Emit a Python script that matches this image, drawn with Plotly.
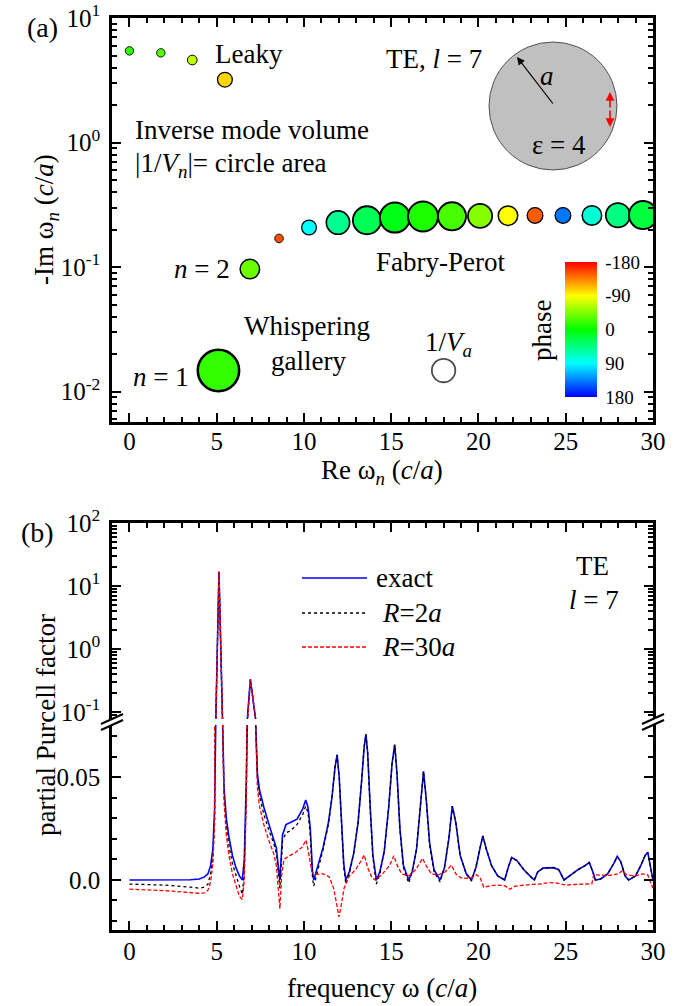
import plotly.graph_objects as go

# ---------------------------------------------------------------- page geometry
W, H = 689, 1006
ML, MR, MT, MB = 112, 36, 18, 76
PW = W - ML - MR
PH = H - MT - MB
FONT = "Liberation Serif"


def px(x):
    return (x - ML) / PW


def py(y):
    return (H - MB - y) / PH


# ---------------------------------------------------------------- panel (a) data
# complex eigenfrequencies omega_n (units c/a), inverse mode volume |1/V_n| (arb.)
# and phase of 1/V_n in degrees
leaky_re = [0.0, 1.8, 3.6, 5.47]
leaky_im = [5.45, 5.25, 4.6, 3.2]
leaky_invV = [0.71, 0.71, 0.94, 2.19]
leaky_phase = [-15, -30, -68, -105]

wg_re = [5.1, 6.9]
wg_im = [0.0148, 0.0965]
wg_invV = [17.1, 3.8]
wg_phase = [-18, -38]

fp_re = [8.57, 10.29, 11.95, 13.61, 15.21, 16.82, 18.48, 20.09, 21.69,
         23.24, 24.84, 26.50, 27.99, 29.43]
fp_im = [0.170, 0.208, 0.228, 0.238, 0.250, 0.255, 0.256, 0.258, 0.259,
         0.260, 0.260, 0.260, 0.261, 0.262]
fp_invV = [0.74, 2.19, 5.43, 7.9, 9.0, 9.0, 7.9, 5.86, 3.8, 2.46, 2.46,
           3.8, 5.86, 7.9]
fp_phase = [-152, 90, 51, 30, 8, -10, -25, -46, -90, -148, 138, 75, 45, 22]

# reference circle for the mode volume of the cylinder itself
ref_re = [18.0]
ref_im = [0.0148]
ref_invV = [5.5]

# ---------------------------------------------------------------- panel (b) data
exact_w = [0.0, 2.0, 3.5, 4.0, 4.3, 4.5, 4.65, 4.78, 4.88, 4.95, 5.13, 5.33,
           5.42, 5.55, 5.7, 5.9, 6.1, 6.3, 6.47, 6.58, 6.7, 6.8, 6.93, 7.22,
           7.33, 7.45, 7.7, 8.0, 8.26, 8.42, 8.54, 8.62, 8.77, 8.97, 9.22,
           9.6, 9.93, 10.1, 10.23, 10.36, 10.49, 10.56, 10.8, 11.1, 11.4,
           11.6, 11.78, 11.9, 12.02, 12.15, 12.28, 12.4, 12.6, 12.85, 13.1,
           13.3, 13.45, 13.55, 13.65, 13.8, 13.95, 14.15, 14.35, 14.6, 14.85,
           15.05, 15.2, 15.33, 15.5, 15.7, 16.0, 16.2, 16.45, 16.65, 16.85,
           17.0, 17.2, 17.45, 17.8, 18.05, 18.3, 18.5, 18.7, 18.95, 19.3,
           19.6, 19.85, 20.1, 20.25, 20.45, 20.75, 21.1, 21.5, 21.7, 21.9,
           22.2, 22.6, 23.0, 23.2, 23.4, 23.7, 24.3, 24.6, 24.9, 25.2, 25.7,
           26.1, 26.35, 26.55, 26.7, 27.0, 27.4, 27.75, 27.95, 28.15, 28.4,
           28.6, 29.0, 29.3, 29.55, 29.7, 29.85, 30.0]
exact_F = [0.0, 0.0, 0.0001, 0.0005, 0.0015, 0.003, 0.007, 0.015, 0.035, 0.08,
           17.0, 0.08, 0.045, 0.03, 0.021, 0.012, 0.006, 0.002, 0.0, 0.01,
           0.05, 0.1, 0.33, 0.08, 0.052, 0.044, 0.0355, 0.027, 0.0205, 0.0155,
           0.0055, 0.0, 0.022, 0.027, 0.028, 0.0297, 0.0347, 0.039, 0.0355,
           0.0255, 0.004, 0.0, 0.007, 0.016, 0.028, 0.04, 0.055, 0.061, 0.05,
           0.028, 0.008, 0.0, 0.004, 0.013, 0.028, 0.048, 0.065, 0.071, 0.062,
           0.035, 0.012, 0.0, 0.004, 0.014, 0.035, 0.057, 0.066, 0.052, 0.025,
           0.007, 0.0, 0.004, 0.015, 0.034, 0.053, 0.04, 0.018, 0.005, 0.0,
           0.006, 0.02, 0.036, 0.028, 0.012, 0.003, 0.0, 0.006, 0.016, 0.0215,
           0.015, 0.007, 0.002, 0.0, 0.006, 0.011, 0.0095, 0.005, 0.0015, 0.0,
           0.004, 0.0058, 0.006, 0.005, 0.0, 0.002, 0.005, 0.007, 0.0085,
           0.004, 0.0, 0.0005, 0.003, 0.008, 0.0115, 0.009, 0.002, 0.0, 0.002,
           0.007, 0.012, 0.0135, 0.006, 0.0]

r2_w = exact_w
r2_F = [-0.002, -0.0025, -0.0035, -0.004, -0.0035, -0.002, 0.003, 0.011,
        0.03, 0.08, 17.0, 0.08, 0.042, 0.026, 0.017, 0.008, 0.002, -0.003,
        -0.007, 0.004, 0.045, 0.1, 0.33, 0.08, 0.05, 0.041, 0.032, 0.024,
        0.018, 0.013, 0.003, -0.004, 0.019, 0.023, 0.024, 0.027, 0.032, 0.036,
        0.033, 0.022, 0.001, -0.003, 0.005, 0.015, 0.027, 0.04, 0.055, 0.061,
        0.05, 0.027, 0.006, -0.002, 0.003, 0.013, 0.028, 0.048, 0.065, 0.071,
        0.062, 0.034, 0.011, -0.002, 0.003, 0.014, 0.035, 0.057, 0.066, 0.052,
        0.024, 0.006, -0.0015, 0.004, 0.015, 0.034, 0.053, 0.04, 0.017, 0.004,
        -0.001, 0.006, 0.02, 0.036, 0.028, 0.012, 0.003, -0.0005, 0.006, 0.016,
        0.0215, 0.015, 0.007, 0.002, 0.0, 0.006, 0.011, 0.0095, 0.005, 0.0015,
        0.0, 0.004, 0.0058, 0.006, 0.005, 0.0, 0.002, 0.005, 0.007, 0.0085,
        0.004, 0.0, 0.0005, 0.003, 0.008, 0.0115, 0.009, 0.002, 0.0, 0.002,
        0.007, 0.012, 0.0135, 0.006, 0.0]

r30_w = [0.0, 1.0, 2.0, 3.0, 3.5, 4.0, 4.3, 4.5, 4.65, 4.78, 4.88, 4.95, 5.13,
         5.33, 5.42, 5.55, 5.7, 5.9, 6.1, 6.3, 6.47, 6.58, 6.7, 6.8, 6.93,
         7.22, 7.33, 7.45, 7.7, 8.0, 8.26, 8.42, 8.54, 8.62, 8.72, 8.85, 9.1,
         9.5, 9.9, 10.12, 10.25, 10.45, 10.7, 11.1, 11.45, 11.7, 11.9, 12.0,
         12.1, 12.3, 12.6, 12.95, 13.25, 13.45, 13.65, 13.9, 14.1, 14.5, 14.9,
         15.15, 15.35, 15.6, 16.0, 16.4, 16.8, 17.0, 17.3, 17.7, 18.1, 18.45,
         18.7, 19.0, 19.5, 19.9, 20.1, 20.3, 20.6, 21.0, 21.5, 21.8, 22.1,
         22.5, 23.0, 23.5, 24.0, 24.5, 25.0, 25.5, 26.0, 26.5, 26.6, 27.0,
         27.5, 28.0, 28.25, 28.5, 29.0, 29.4, 29.7, 29.85, 30.0]
r30_F = [-0.0045, -0.0048, -0.0052, -0.0058, -0.0062, -0.0065, -0.0063,
         -0.005, -0.001, 0.008, 0.028, 0.08, 17.0, 0.08, 0.038, 0.022, 0.012,
         0.003, -0.003, -0.008, -0.0095, 0.0, 0.04, 0.1, 0.33, 0.08, 0.045,
         0.036, 0.027, 0.019, 0.013, 0.007, -0.005, -0.014, 0.002, 0.01,
         0.0115, 0.0133, 0.016, 0.0195, 0.014, 0.004, 0.0028, 0.003, 0.0015,
         -0.004, -0.013, -0.018, -0.014, -0.004, 0.002, 0.005, 0.009, 0.0122,
         0.006, 0.001, 0.0, 0.003, 0.007, 0.0118, 0.007, 0.003, 0.002, 0.005,
         0.0105, 0.007, 0.003, 0.0025, 0.004, 0.0072, 0.003, 0.001, 0.0008,
         0.0025, 0.001, -0.0035, -0.003, -0.0025, -0.0028, -0.0045, -0.003,
         -0.0025, -0.0022, -0.002, -0.0013, -0.0015, -0.0025, -0.0022, -0.002,
         -0.0018, 0.0025, 0.0025, 0.0022, 0.003, 0.0045, 0.0025, 0.002, 0.003,
         0.0025, -0.001, -0.004]

# ---------------------------------------------------------------- styles
PHASE_SCALE = [
    [0.0, "rgb(0,0,255)"], [0.125, "rgb(0,128,255)"], [0.25, "rgb(0,255,255)"],
    [0.375, "rgb(0,255,128)"], [0.5, "rgb(0,255,0)"], [0.625, "rgb(128,255,0)"],
    [0.75, "rgb(255,255,0)"], [0.875, "rgb(255,128,0)"], [1.0, "rgb(255,0,0)"],
]
# bubble diameter in px = 10 * sqrt(|1/V|)  (plotly area mode halves the value)
SIZEREF = 0.02


def outline_width(inv_volume):
    diameter = 10 * inv_volume ** 0.5
    return 0.5 + 0.05 * diameter


fig = go.Figure()

modes_re = leaky_re + wg_re + fp_re
modes_im = leaky_im + wg_im + fp_im
modes_invV = leaky_invV + wg_invV + fp_invV
modes_phase = leaky_phase + wg_phase + fp_phase

fig.add_trace(go.Scatter(
    x=modes_re, y=modes_im, mode="markers", xaxis="x", yaxis="y",
    showlegend=False, hoverinfo="skip",
    marker=dict(
        size=modes_invV, sizemode="area", sizeref=SIZEREF,
        color=[-p for p in modes_phase], colorscale=PHASE_SCALE,
        cmin=-180, cmax=180, opacity=1,
        line=dict(color="black", width=[outline_width(v) for v in modes_invV]),
        colorbar=dict(
            x=px(565), xanchor="left", y=py(329.5), yanchor="middle",
            len=(397 - 262) / PH, lenmode="fraction",
            thickness=32, thicknessmode="pixels",
            outlinewidth=0, xpad=0, ypad=0,
            tickvals=[-180, -90, 0, 90, 180],
            ticktext=["180", "90", "0", "-90", "-180"],
            ticks="outside", ticklen=5, tickcolor="rgba(0,0,0,0)",
            tickfont=dict(family=FONT, size=19, color="black"),
        ),
    ),
))

fig.add_trace(go.Scatter(
    x=ref_re, y=ref_im, mode="markers", xaxis="x", yaxis="y",
    showlegend=False, hoverinfo="skip",
    marker=dict(size=ref_invV, sizemode="area", sizeref=SIZEREF,
                color="white", line=dict(color="black", width=1.8)),
))

series = [
    (exact_w, exact_F, dict(color="rgb(0,0,255)", width=1.6, dash="solid")),
    (r2_w, r2_F, dict(color="black", width=1.3, dash="dot")),
    (r30_w, r30_F, dict(color="rgb(255,0,0)", width=1.3, dash="4px,2px")),
]
for xs, ys, style in series:
    for xa, ya in (("x2", "y2"), ("x3", "y3")):
        fig.add_trace(go.Scatter(x=xs, y=ys, mode="lines", xaxis=xa, yaxis=ya,
                                 line=style, showlegend=False, hoverinfo="skip"))

# ---------------------------------------------------------------- axes
tickfont = dict(family=FONT, size=25, color="black")
common = dict(showgrid=False, zeroline=False, showline=True, linecolor="black",
              linewidth=2.5, ticks="inside", ticklen=9, tickwidth=1.8,
              tickcolor="black", tickfont=tickfont, automargin=False,
              ticklabeloverflow="allow")


def xcommon(**kw):
    d = dict(common)
    d.update(range=[-1, 30], tickmode="linear", tick0=0, dtick=5,
             minor=dict(tickmode="linear", tick0=0, dtick=1, ticks="inside",
                        ticklen=5, tickwidth=1.5, tickcolor="black"))
    d.update(kw)
    return d


def log_minor(lo, hi):
    vals = []
    for e in range(lo, hi):
        for k in range(2, 10):
            vals.append(k * 10.0 ** e)
    return dict(tickmode="array", tickvals=vals, ticks="inside", ticklen=5,
                tickwidth=1.5, tickcolor="black")


def pow_label(e):
    return "10<sup>%d</sup>" % e


ya = dict(common)
ya.update(type="log", range=[-2.243, 1.0001], domain=[py(422), 1],
          tickmode="array", tickvals=[0.01, 0.1, 1, 10],
          ticktext=[pow_label(e) for e in (-2, -1, 0, 1)],
          minor=log_minor(-3, 1), mirror="allticks", anchor="x",
          ticklabelstandoff=4)

yb_log = dict(common)
yb_log.update(type="log", range=[-1.111, 2], domain=[py(719), py(523)],
              tickmode="array", tickvals=[0.1, 1, 10, 100],
              ticktext=[pow_label(e) for e in (-1, 0, 1, 2)],
              minor=log_minor(-2, 2), mirror="allticks", anchor="x2",
              ticklabelstandoff=4)

yb_lin = dict(common)
yb_lin.update(range=[-0.0244, 0.0756], domain=[0, py(725)],
              tickmode="array", tickvals=[0, 0.05], ticktext=["0.0", "0.05"],
              minor=dict(tickmode="array",
                         tickvals=[-0.02, -0.01, 0.01, 0.02, 0.03, 0.04, 0.06, 0.07],
                         ticks="inside", ticklen=5, tickwidth=1.5, tickcolor="black"),
              mirror="allticks", anchor="x3", ticklabelstandoff=4)

fig.update_layout(
    width=W, height=H,
    margin=dict(l=ML, r=MR, t=MT, b=MB, autoexpand=False),
    paper_bgcolor="white", plot_bgcolor="white",
    font=dict(family=FONT, color="black"),
    xaxis=xcommon(anchor="y", mirror="allticks", ticklabelstandoff=-5),
    yaxis=ya,
    xaxis2=xcommon(anchor="y2", side="top", showticklabels=False),
    yaxis2=yb_log,
    xaxis3=xcommon(anchor="y3", side="bottom", ticklabelstandoff=-3),
    yaxis3=yb_lin,
)


# ---------------------------------------------------------------- annotations
def label(text, x, y, size=27, xanchor="center", angle=0):
    return dict(text=text, x=px(x), y=py(y), xref="paper", yref="paper",
                showarrow=False, xanchor=xanchor, yanchor="middle",
                textangle=angle, font=dict(family=FONT, size=size, color="black"))


ann = [
    label("(a)", 42, 28, 28),
    label("Leaky", 249, 54),
    label("Inverse mode volume", 133, 130, xanchor="left"),
    label("|1/<i>V<sub>n</sub></i>|= circle area", 133, 165, xanchor="left"),
    label("TE, <i>l</i> = 7", 434, 59),
    label("<i>a</i>", 547, 76),
    label("\u03b5 = 4", 559, 145),
    label("Fabry-Perot", 440, 262),
    label("<i>n</i> = 2", 202, 269),
    label("<i>n</i> = 1", 161, 377),
    label("Whispering", 307, 326),
    label("gallery", 308, 361),
    label("1/<i>V<sub>a</sub></i>", 448, 344),
    label("phase", 542, 331, angle=-90),
    label("-Im \u03c9<sub><i>n</i></sub> (<i>c</i>/<i>a</i>)", 46, 220, angle=-90),
    label("Re \u03c9<sub><i>n</i></sub> (<i>c</i>/<i>a</i>)", 382, 472),
    label("(b)", 37, 532, 28),
    label("exact", 374, 578, xanchor="left"),
    label("<i>R</i>=2<i>a</i>", 380, 613, xanchor="left"),
    label("<i>R</i>=30<i>a</i>", 380, 647, xanchor="left"),
    label("TE", 592, 566),
    label("<i>l</i> = 7", 594, 600),
    label("partial Purcell factor", 46, 725, angle=-90),
    label("frequency \u03c9 (<i>c</i>/<i>a</i>)", 382, 988),
]

# radius arrow in the cylinder sketch
ann.append(dict(x=px(517), y=py(57), xref="paper", yref="paper", text="",
                showarrow=True, ax=37, ay=48, axref="pixel", ayref="pixel",
                arrowhead=2, arrowsize=1.3, arrowwidth=1.2, arrowcolor="black",
                standoff=0, startstandoff=0))
# dipole source (red double arrow)
for tip_y, off in ((92, 17), (127, -18)):
    ann.append(dict(x=px(610), y=py(tip_y), xref="paper", yref="paper", text="",
                    showarrow=True, ax=0, ay=off, arrowhead=2, arrowsize=1.1,
                    arrowwidth=1.6, arrowcolor="red", standoff=0))

shapes = [
    dict(type="circle", xref="paper", yref="paper",
         x0=px(553 - 64), x1=px(553 + 64), y0=py(106 + 64), y1=py(106 - 64),
         fillcolor="#c0c0c0", line=dict(color="#505050", width=1), layer="below"),
]

# legend samples for panel (b)
for yy, style in ((578, series[0][2]), (613, series[1][2]), (647, series[2][2])):
    shapes.append(dict(type="line", xref="paper", yref="paper",
                       x0=px(302), x1=px(367), y0=py(yy), y1=py(yy),
                       line=dict(color=style["color"], width=style["width"],
                                 dash=style["dash"])))

# axis-break marks
for xc in (ML, W - MR):
    for dy in (-3, 3):
        shapes.append(dict(type="line", xref="paper", yref="paper",
                           x0=px(xc - 11), y0=py(722 + dy + 5),
                           x1=px(xc + 11), y1=py(722 + dy - 5),
                           line=dict(color="black", width=2.2)))

fig.update_layout(annotations=ann, shapes=shapes)

fig.write_html("out.html")
